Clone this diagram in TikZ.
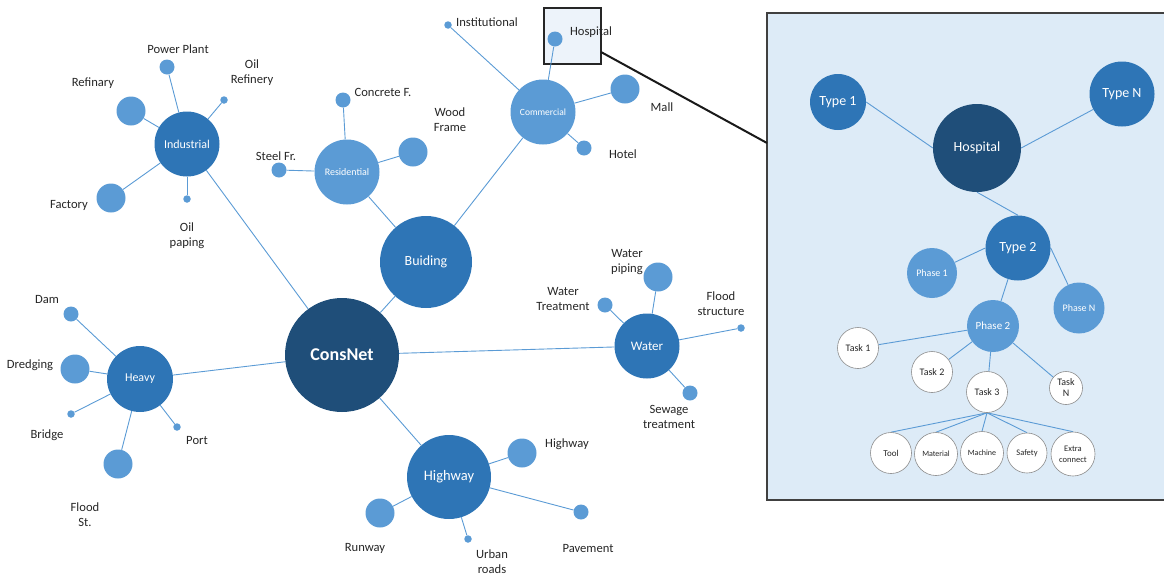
\documentclass[tikz,border=0pt]{standalone}
\usepackage{fontspec}
\setmainfont{Carlito}
\usetikzlibrary{backgrounds}
\definecolor{netdark}{HTML}{1F4E79}
\definecolor{netmid}{HTML}{2E75B6}
\definecolor{netlight}{HTML}{5B9BD5}
\definecolor{insetbg}{HTML}{DDEBF7}
\definecolor{zoombg}{HTML}{EDF3FA}
\definecolor{labelgray}{HTML}{262626}

\tikzset{
  bubble/.style={circle, inner sep=0pt, text=white, align=center},
  hub/.style={bubble, fill=netdark},
  mid/.style={bubble, fill=netmid},
  lite/.style={bubble, fill=netlight},
  leafbig/.style={circle, fill=netlight, inner sep=0pt, minimum size=29pt},
  leafmid/.style={circle, fill=netlight, inner sep=0pt, minimum size=15pt},
  leafdot/.style={circle, fill=netlight, inner sep=0pt, minimum size=7.5pt},
  taskbub/.style={circle, draw=black!45, line width=0.6pt, fill=white, inner sep=0pt,
    text=labelgray, align=center},
  tag/.style={text=labelgray, font=\fontsize{12.6}{15}\selectfont, align=center, inner sep=0pt},
  link/.style={draw=netlight, line width=0.9pt},
}

\begin{document}
\begin{tikzpicture}[x=1pt, y=-1pt]
    \useasboundingbox (0,0) rectangle (1164,576);
    % Main hubs
    \node[hub, minimum size=114pt, font=\fontsize{18}{20}\selectfont\bfseries] (consnet) at (342,355) {ConsNet};
    \node[mid, minimum size=92pt, font=\fontsize{14}{16}\selectfont] (buiding) at (426,262) {Buiding};
    \node[mid, minimum size=84pt, font=\fontsize{14.5}{16}\selectfont] (highway) at (449,477) {Highway};
    \node[mid, minimum size=65pt, font=\fontsize{12}{14}\selectfont] (industrial) at (187,144) {Industrial};
    \node[mid, minimum size=66pt, font=\fontsize{12}{14}\selectfont] (heavy) at (140,379) {Heavy};
    \node[mid, minimum size=65pt, font=\fontsize{13}{15}\selectfont] (water) at (647,346) {Water};
    \node[lite, minimum size=65pt, font=\fontsize{10}{12}\selectfont] (residential) at (347,172) {Residential};
    \node[lite, minimum size=65pt, font=\fontsize{9.5}{11}\selectfont] (commercial) at (543,112) {Commercial};
    % Industrial
    \node[leafmid] (powerplant) at (167,67) {};
    \node[leafdot] (oilrefinery) at (224,100) {};
    \node[leafbig] (refinary) at (131,111) {};
    \node[leafbig] (factory) at (111,198) {};
    \node[leafdot] (oilpaping) at (187,199) {};
    \node[tag] (powerplanttag) at (178,49) {Power Plant};
    \node[tag] (oilrefinerytag) at (252,73) {Oil\\Refinery};
    \node[tag] (refinarytag) at (93,83) {Refinary};
    \node[tag] (factorytag) at (69,205) {Factory};
    \node[tag] (oilpapingtag) at (187,236) {Oil\\paping};
    % Residential
    \node[leafmid] (steelfr) at (279,170) {};
    \node[leafmid] (concretef) at (343,100) {};
    \node[leafbig] (woodframe) at (413,152) {};
    \node[tag] (steelfrtag) at (276,156) {Steel Fr.};
    \node[tag] (concreteftag) at (383,92) {Concrete F.};
    \node[tag] (woodframetag) at (450,120) {Wood\\Frame};
    % Commercial
    \node[leafdot] (institutional) at (448,25) {};
    \node[leafmid] (hospsmall) at (555,39) {};
    \node[leafbig] (mall) at (625,89) {};
    \node[leafmid] (hotel) at (584,148) {};
    \node[tag] (institutionaltag) at (487,22) {Institutional};
    \node[tag] (hospsmalltag) at (591,32) {Hospital};
    \node[tag] (malltag) at (662,107) {Mall};
    \node[tag] (hoteltag) at (623,154) {Hotel};
    % Water
    \node[leafbig] (waterpiping) at (658,277) {};
    \node[leafmid] (watertreat) at (605,305) {};
    \node[leafdot] (floodstruct) at (741,328) {};
    \node[leafmid] (sewage) at (690,393) {};
    \node[tag] (waterpipingtag) at (627,262) {Water\\piping};
    \node[tag] (watertreattag) at (563,299) {Water\\Treatment};
    \node[tag] (floodstructtag) at (721,304) {Flood\\structure};
    \node[tag] (sewagetag) at (669,417) {Sewage\\treatment};
    % Highway
    \node[leafbig] (highwaysmall) at (522,453) {};
    \node[leafmid] (pavement) at (581,512) {};
    \node[leafdot] (urbanroads) at (468,539) {};
    \node[leafbig] (runway) at (380,513) {};
    \node[tag] (highwaysmalltag) at (567,444) {Highway};
    \node[tag] (pavementtag) at (588,548) {Pavement};
    \node[tag] (urbanroadstag) at (492,562) {Urban\\roads};
    \node[tag] (runwaytag) at (365,548) {Runway};
    % Heavy
    \node[leafmid] (dam) at (71,314) {};
    \node[leafbig] (dredging) at (75,369) {};
    \node[leafdot] (bridge) at (71,414) {};
    \node[leafdot] (port) at (177,427) {};
    \node[leafbig] (floodst) at (118,464) {};
    \node[tag] (damtag) at (47,299) {Dam};
    \node[tag] (dredgingtag) at (30,365) {Dredging};
    \node[tag] (bridgetag) at (47,435) {Bridge};
    \node[tag] (porttag) at (197,440) {Port};
    \node[tag] (floodsttag) at (85,515) {Flood\\St.};
    % Inset: hospital breakdown
    \node[hub, minimum size=88pt, font=\fontsize{14}{16}\selectfont] (hospital) at (977,148) {Hospital};
    \node[mid, minimum size=56pt, font=\fontsize{14}{16}\selectfont] (type1) at (838,102) {Type 1};
    \node[mid, minimum size=65pt, font=\fontsize{14}{16}\selectfont] (typeN) at (1122,94) {Type N};
    \node[mid, minimum size=65pt, font=\fontsize{14}{16}\selectfont] (type2) at (1018,248) {Type 2};
    \node[lite, minimum size=50pt, font=\fontsize{10}{12}\selectfont] (phase1) at (932,273) {Phase 1};
    \node[lite, minimum size=51pt, font=\fontsize{10}{12}\selectfont] (phaseN) at (1079,308) {Phase N};
    \node[lite, minimum size=52pt, font=\fontsize{11}{13}\selectfont] (phase2) at (993,326) {Phase 2};
    \node[taskbub, minimum size=41pt, font=\fontsize{10}{12}\selectfont] (task1) at (858,348) {Task 1};
    \node[taskbub, minimum size=41pt, font=\fontsize{10}{12}\selectfont] (task2) at (932,372) {Task 2};
    \node[taskbub, minimum size=41pt, font=\fontsize{10}{12}\selectfont] (task3) at (987,392) {Task 3};
    \node[taskbub, minimum size=33pt, font=\fontsize{10}{11}\selectfont] (taskN) at (1066,388) {Task\\N};
    \node[taskbub, minimum size=41pt, font=\fontsize{9}{11}\selectfont] (tool) at (891,453) {Tool};
    \node[taskbub, minimum size=43pt, font=\fontsize{8}{10}\selectfont] (material) at (936,454) {Material};
    \node[taskbub, minimum size=43pt, font=\fontsize{8}{10}\selectfont] (machine) at (982,453) {Machine};
    \node[taskbub, minimum size=40pt, font=\fontsize{8.5}{10}\selectfont] (safety) at (1027,453) {Safety};
    \node[taskbub, minimum size=44pt, font=\fontsize{8.5}{11}\selectfont] (extra) at (1073,454) {Extra\\connect};
    % Zoom frame
    \coordinate (zoomfrom) at (601,52);
    \coordinate (zoomto) at (767,143);
    \begin{scope}[on background layer]
        \draw[draw=black!75, line width=2pt, fill=insetbg] (767,13) rectangle (1172,500);
        \draw[draw=black!85, line width=1.5pt, fill=zoombg] (544,8) rectangle (601,64);
        \draw[line width=2pt, black!90] (zoomfrom) -- (zoomto);
        % Links
        \foreach \a/\b in {consnet/industrial, consnet/buiding, consnet/heavy, consnet/water,
            consnet/highway, industrial/powerplant, industrial/oilrefinery, industrial/refinary,
            industrial/factory, industrial/oilpaping, buiding/residential, buiding/commercial,
            residential/steelfr, residential/concretef, residential/woodframe,
            commercial/institutional, commercial/hospsmall, commercial/mall, commercial/hotel,
            water/waterpiping, water/watertreat, water/floodstruct, water/sewage,
            highway/highwaysmall, highway/pavement, highway/urbanroads, highway/runway,
            heavy/dam, heavy/dredging, heavy/bridge, heavy/port, heavy/floodst,
            type2/phase2, phase2/task1, phase2/task2, phase2/task3, phase2/taskN}
            \draw[link] (\a) -- (\b);
        \draw[link] (type1.east) -- (hospital.west);
        \draw[link] (hospital.east) -- (typeN);
        \draw[link] (hospital.south) -- (type2.north);
        \draw[link] (type2.west) -- (phase1);
        \draw[link] (type2.east) -- (phaseN);
        \foreach \t in {tool, material, machine, safety, extra}
            \draw[link] (task3.south) -- (\t.north);
    \end{scope}
\end{tikzpicture}
\end{document}
